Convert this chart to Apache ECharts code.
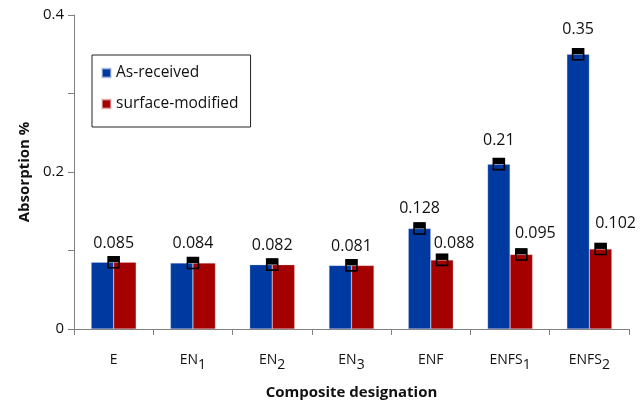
<!DOCTYPE html>
<html>
<head>
<meta charset="utf-8">
<script src="https://cdn.jsdelivr.net/npm/echarts@6/dist/echarts.min.js"></script>
<style>html,body{margin:0;padding:0;background:#fff;}#c{width:643px;height:405px;}</style>
</head>
<body>
<div id="c"></div>
<script>
const categories = ['E', 'EN1', 'EN2', 'EN3', 'ENF', 'ENFS1', 'ENFS2'];
const asReceived = [0.085, 0.084, 0.082, 0.081, 0.128, 0.21, 0.35];
const surfaceModified = [0.085, 0.084, 0.082, 0.081, 0.088, 0.095, 0.102];
const yTickLabels = { '0': '0', '0.2': '0.2', '0.4': '0.4' };

// label styling (distance above marker, horizontal shift) per category
const labelDistBlue = [5, 5, 5, 5, 6, 9, 11];
const labelDistRed = [5, 5, 5, 5, 2, 7, 11];
const labelShiftRed = [0, 0, 0, 0, 12, 14, 15];

const FONT = 'Open Sans';
const BAR_W = 22.5;
const BLUE = '#0039a0';
const RED = '#a50000';
const TXT = '#111';

// marker items built from the data arrays
const markers = [];
categories.forEach(function (c, i) {
  if (asReceived[i] === surfaceModified[i]) {
    markers.push({ value: [i, asReceived[i]], ox: 0, lx: 0, dist: labelDistBlue[i] });
  } else {
    markers.push({ value: [i, asReceived[i]], ox: -BAR_W / 2, lx: 0, dist: labelDistBlue[i] });
    markers.push({ value: [i, surfaceModified[i]], ox: BAR_W / 2, lx: labelShiftRed[i], dist: labelDistRed[i] });
  }
});

const chart = echarts.init(document.getElementById('c'), null, { renderer: 'canvas' });
chart.setOption({
  animation: false,
  textStyle: { fontFamily: FONT },
  grid: { left: 74, right: 14, top: 15, bottom: 74 },
  legend: {
    data: ['As-received', 'surface-modified'],
    orient: 'vertical',
    left: 92, top: 55,
    padding: [10, 12, 15, 9],
    itemGap: 15,
    itemWidth: 9, itemHeight: 9,
    icon: 'rect',
    borderColor: '#222', borderWidth: 1,
    textStyle: { fontFamily: FONT, fontSize: 15.5, color: TXT }
  },
  xAxis: {
    type: 'category',
    data: categories,
    name: 'Composite designation',
    nameLocation: 'middle',
    nameGap: 56,
    nameTextStyle: { fontFamily: FONT, fontSize: 15, fontWeight: 'bold', color: TXT },
    axisLine: { lineStyle: { color: '#808080', width: 1 } },
    axisTick: { show: true, length: 6, alignWithLabel: false, lineStyle: { color: '#808080' } },
    axisLabel: {
      interval: 0,
      margin: 26,
      color: TXT,
      formatter: function (v) {
        const m = v.match(/^(.*?)(\d)$/);
        return m ? '{m|' + m[1] + '}{s|' + m[2] + '}' : '{m|' + v + '}';
      },
      rich: {
        m: { fontFamily: FONT, fontSize: 14, color: TXT, lineHeight: 16, padding: [0, 0, 5, 0] },
        s: { fontFamily: FONT, fontSize: 14, color: TXT, lineHeight: 16, padding: [5, 0, 0, 0] }
      }
    }
  },
  yAxis: {
    type: 'value',
    min: 0, max: 0.4, interval: 0.1,
    name: 'Absorption %',
    nameLocation: 'middle',
    nameGap: 36,
    nameTextStyle: { fontFamily: FONT, fontSize: 15, fontWeight: 'bold', color: TXT },
    axisLine: { show: true, lineStyle: { color: '#808080', width: 1 } },
    axisTick: { show: true, length: 6, lineStyle: { color: '#808080' } },
    splitLine: { show: false },
    axisLabel: {
      margin: 10,
      fontFamily: FONT, fontSize: 15, color: TXT,
      formatter: function (v) {
        const k = String(+v.toFixed(2));
        return yTickLabels[k] !== undefined ? yTickLabels[k] : '';
      }
    }
  },
  series: [
    {
      name: 'As-received', type: 'bar', data: asReceived,
      barWidth: BAR_W, barGap: '0%',
      itemStyle: { color: BLUE, borderColor: 'rgba(200,210,240,0.6)', borderWidth: 0.5 }
    },
    {
      name: 'surface-modified', type: 'bar', data: surfaceModified,
      barWidth: BAR_W, barGap: '0%',
      itemStyle: { color: RED, borderColor: 'rgba(240,200,200,0.6)', borderWidth: 0.5 }
    },
    {
      name: 'mk-fill', type: 'scatter', z: 5,
      data: markers.map(function (d) {
        return { value: d.value, symbolOffset: [d.ox, -3] };
      }),
      symbol: 'rect', symbolSize: [11, 6],
      itemStyle: { color: '#000', opacity: 1 },
      silent: true
    },
    {
      name: 'mk', type: 'scatter', z: 6,
      data: markers.map(function (d) {
        return {
          value: d.value, symbolOffset: [d.ox, 0],
          label: { show: true, position: 'top', distance: d.dist, offset: [d.lx, 0] }
        };
      }),
      symbol: 'rect', symbolSize: 11,
      itemStyle: { color: 'rgba(0,0,0,0)', borderColor: '#000', borderWidth: 1.6, opacity: 1 },
      label: {
        show: true, position: 'top',
        fontFamily: FONT, fontSize: 16, color: TXT,
        formatter: function (p) { return String(p.value[1]); }
      },
      silent: true
    }
  ]
});
</script>
</body>
</html>
